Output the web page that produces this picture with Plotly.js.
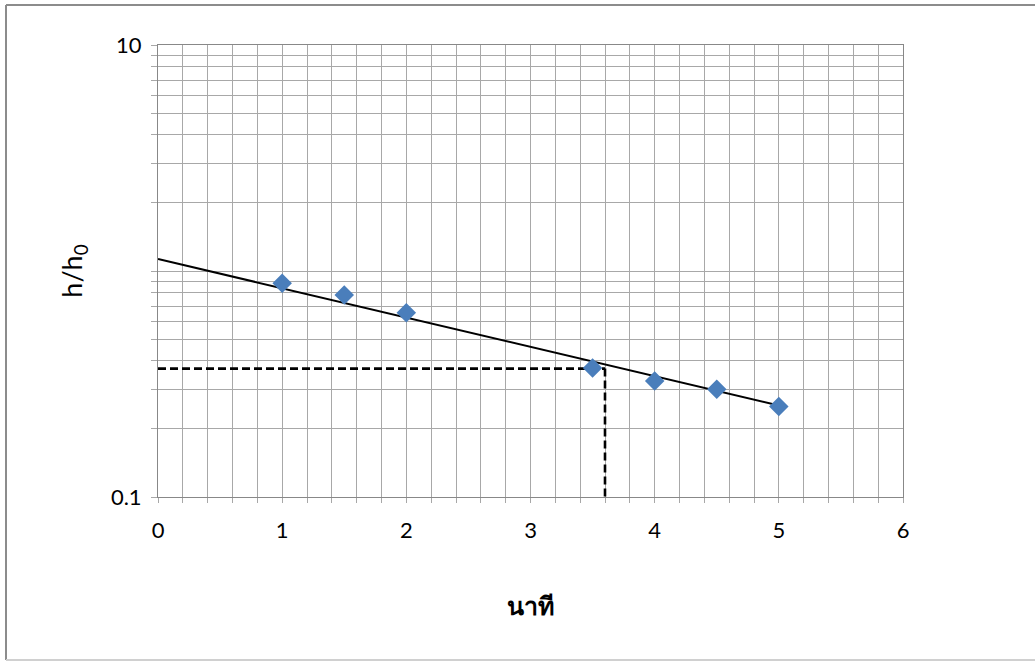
<!DOCTYPE html>
<html>
<head>
<meta charset="utf-8">
<script src="https://cdn.plot.ly/plotly-3.0.1.min.js"></script>
<style>
html,body{margin:0;padding:0;background:#fff;}
#chart{width:1035px;height:664px;}
</style>
</head>
<body>
<div id="chart"></div>
<script>
// Data
const timeMin = [1, 1.5, 2, 3.5, 4, 4.5, 5];
const hRatio = [0.882, 0.783, 0.654, 0.372, 0.326, 0.300, 0.2515];
const trendX = [0, 5];
const trendY = [1.13, 0.254];
const refX = 3.6;
const refY = 0.37;
const xTickVals = [0, 1, 2, 3, 4, 5, 6];
const xTickText = ['0', '1', '2', '3', '4', '5', '6'];
const yTickVals = [0.1, 10];
const yTickText = ['0.1', '10'];
const yMinorVals = [0.2,0.3,0.4,0.5,0.6,0.7,0.8,0.9,1,2,3,4,5,6,7,8,9];

const gridC = '#a8a8a8';
const font = 'Lato, "Open Sans", "Noto Sans", sans-serif';

const traces = [
  {x: [0, refX], y: [refY, refY], mode: 'lines', line: {color: '#000', width: 2.6, dash: '8px,4px'}, hoverinfo: 'skip'},
  {x: [refX, refX], y: [refY, 0.1], mode: 'lines', line: {color: '#000', width: 2.6, dash: '8px,4px'}, hoverinfo: 'skip'},
  {x: trendX, y: trendY, mode: 'lines', line: {color: '#000', width: 2}, hoverinfo: 'skip'},
  {x: timeMin, y: hRatio, mode: 'markers', marker: {symbol: 'diamond', size: 15, color: '#4a7ebb'}}
];

const W = 1035, H = 664, L = 158, R = 903, T = 45, B = 497;
const px = v => (v - L) / (R - L);
const py = v => (B - v) / (B - T);
const frame = {color: '#8c8c8c', width: 2};

const layout = {
  width: W, height: H,
  margin: {l: L, r: W - R, t: T, b: H - B},
  paper_bgcolor: '#fff', plot_bgcolor: '#fff',
  showlegend: false,
  font: {family: font, color: '#000', size: 22},
  xaxis: {
    range: [0, 6], tickvals: xTickVals, ticktext: xTickText,
    showgrid: true, gridcolor: gridC, gridwidth: 1,
    minor: {dtick: 0.2, tick0: 0, showgrid: true, gridcolor: gridC, gridwidth: 1, ticks: 'outside', ticklen: 5, tickcolor: gridC},
    ticks: 'outside', ticklen: 5, tickcolor: gridC,
    showline: true, linecolor: '#888', linewidth: 1, mirror: true,
    zeroline: false, ticklabelstandoff: 9,
    tickfont: {size: 22, family: font},
    title: {text: '<b>นาที</b>', font: {size: 25, family: '"Noto Sans", Lato, sans-serif'}, standoff: 55}
  },
  yaxis: {
    type: 'log', range: [-1, 1], tickvals: yTickVals, ticktext: yTickText,
    showgrid: true, gridcolor: gridC, gridwidth: 1,
    minor: {tickvals: yMinorVals, showgrid: true, gridcolor: gridC, gridwidth: 1, ticks: 'outside', ticklen: 6, tickcolor: gridC},
    ticks: 'outside', ticklen: 6, tickcolor: gridC,
    showline: true, linecolor: '#888', linewidth: 1, mirror: true,
    zeroline: false, ticklabelstandoff: 5,
    tickfont: {size: 22, family: font},
    title: {text: 'h/h<sub>0</sub>', font: {size: 27, family: font}, standoff: 20}
  },
  shapes: [
    {type: 'line', xref: 'paper', yref: 'paper', x0: px(6), x1: px(6), y0: py(5), y1: py(660), line: frame, layer: 'above'},
    {type: 'line', xref: 'paper', yref: 'paper', x0: px(6), x1: px(1035), y0: py(5), y1: py(5), line: frame, layer: 'above'},
    {type: 'line', xref: 'paper', yref: 'paper', x0: px(6), x1: px(1035), y0: py(660), y1: py(660), line: {color: '#d0d0d0', width: 2}, layer: 'above'}
  ]
};

Plotly.newPlot('chart', traces, layout, {displayModeBar: false, staticPlot: true});
</script>
</body>
</html>
